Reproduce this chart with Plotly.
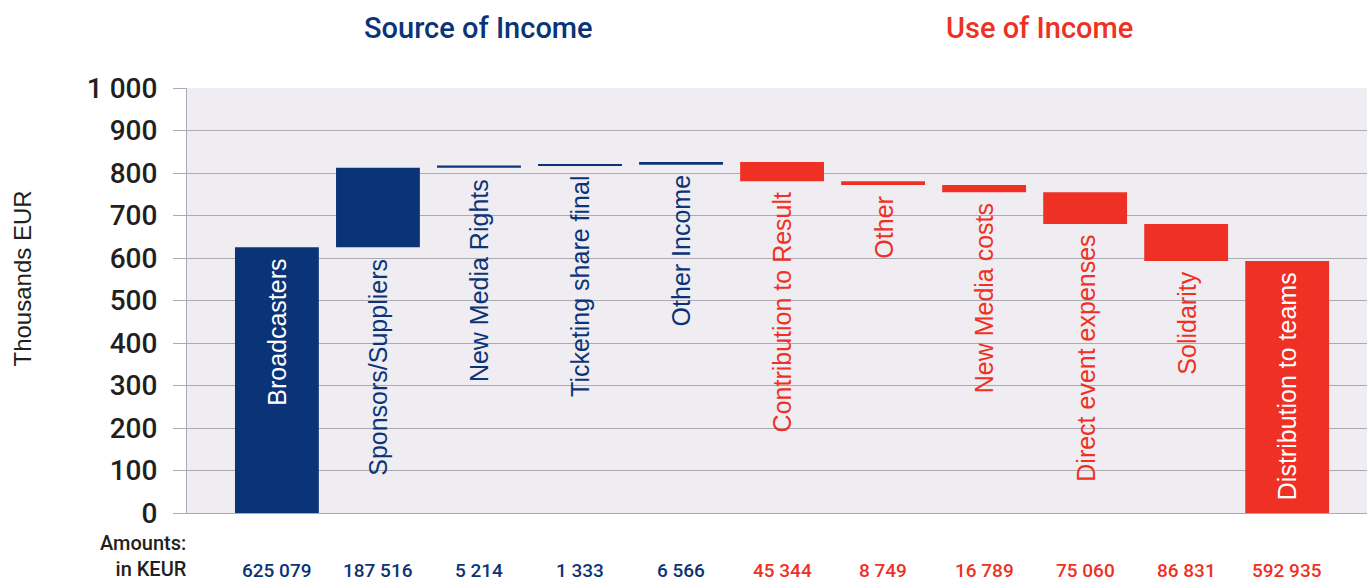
import numpy as np
import plotly.graph_objects as go

# ---------------- data ----------------
categories = [
    "Broadcasters", "Sponsors/Suppliers", "New Media Rights", "Ticketing share final",
    "Other Income", "Contribution to Result", "Other", "New Media costs",
    "Direct event expenses", "Solidarity", "Distribution to teams",
]
amounts_keur = [625079, 187516, 5214, 1333, 6566, 45344, 8749, 16789, 75060, 86831, 592935]
directions = [1, 1, 1, 1, 1, -1, -1, -1, -1, -1, 0]   # +1 income, -1 use, 0 total
measures = ["relative"] * 10 + ["total"]
section_titles = ["Source of Income", "Use of Income"]
row_caption = "Amounts:<br>in KEUR"

BLUE = "#0B3478"
RED = "#EE3124"
DARK = "#231F20"
GRID = "#ABAAB2"
BG = "#EFEDF2"
FONT = "Liberation Sans, Arial, sans-serif"
FONT_M = "Roboto, Liberation Sans, Arial, sans-serif"

vals = np.array(amounts_keur) / 1000.0
signed = np.array([v * d for v, d in zip(vals, directions)])
ends = np.cumsum(signed)
starts = ends - signed
starts[-1] = 0.0  # total bar starts at zero

y_values = [s if d != 0 else v for s, v, d in zip(signed, vals, directions)]

fig = go.Figure()
fig.add_trace(go.Waterfall(
    x=categories,
    y=y_values,
    measure=measures,
    width=0.83,
    increasing=dict(marker=dict(color=BLUE)),
    decreasing=dict(marker=dict(color=RED)),
    totals=dict(marker=dict(color=RED)),
    connector=dict(visible=False),
    textinfo="none",
    hoverinfo="x+y",
    showlegend=False,
))

annotations = []
# rotated bar labels
for i, cat in enumerate(categories):
    lo = min(starts[i], ends[i])
    hi = max(starts[i], ends[i])
    inside = lo < 1e-9
    anchor = hi if inside else lo
    base_col = BLUE if directions[i] > 0 else RED
    col = "white" if inside else base_col
    annotations.append(dict(
        x=cat, y=anchor, xref="x", yref="y", text=cat, textangle=-90,
        showarrow=False, xanchor="center", yanchor="top", yshift=-9,
        font=dict(family=FONT, size=25, color=col),
    ))
    # amounts row
    annotations.append(dict(
        x=cat, y=0, xref="x", yref="paper",
        text=f"{amounts_keur[i]:,}".replace(",", " "),
        showarrow=False, xanchor="center", yanchor="middle", yshift=-57,
        borderpad=0,
        font=dict(family=FONT_M, size=19, color=BLUE if directions[i] > 0 else RED, weight=500),
    ))

annotations.append(dict(
    x=0, y=0, xref="paper", yref="paper", text=row_caption, showarrow=False,
    xanchor="right", yanchor="middle", align="right", xshift=1, yshift=-43,
    borderpad=0,
    font=dict(family=FONT_M, size=20, color=DARK, weight=500),
))
# section titles
annotations.append(dict(
    x=2.0, y=1, xref="x", yref="paper", text=section_titles[0], showarrow=False,
    xanchor="center", yanchor="middle", yshift=60,
    font=dict(family=FONT_M, size=29, color=BLUE, weight=500),
))
annotations.append(dict(
    x=7.55, y=1, xref="x", yref="paper", text=section_titles[1], showarrow=False,
    xanchor="center", yanchor="middle", yshift=60,
    font=dict(family=FONT_M, size=29, color=RED, weight=500),
))
# y axis title
annotations.append(dict(
    x=0, y=0.5, xref="paper", yref="paper", text="Thousands EUR", showarrow=False,
    textangle=-90, xanchor="center", yanchor="middle", xshift=-165, yshift=22,
    font=dict(family=FONT, size=24, color=DARK),
))

fig.update_layout(
    width=1367, height=583,
    margin=dict(l=187, r=0, t=88, b=70),
    paper_bgcolor="white",
    plot_bgcolor=BG,
    separators=". ",
    annotations=annotations,
    font=dict(family=FONT),
)
fig.update_xaxes(
    type="category", range=[-0.89, 10.79], showticklabels=False, showgrid=False,
    showline=True, linecolor=GRID, linewidth=1, ticks="", zeroline=False,
)
fig.update_yaxes(
    range=[0, 1000], dtick=100, tick0=0, tickformat=",d",
    showgrid=True, gridcolor=GRID, gridwidth=1,
    showline=True, linecolor=GRID, linewidth=1,
    ticks="outside", ticklen=13, tickcolor=GRID, ticklabelstandoff=10,
    tickfont=dict(family=FONT_M, size=28, color=DARK, weight=500), zeroline=False,
)

fig.write_html("out.html", config={"displayModeBar": False},
               post_script="document.body.style.margin='0';")
